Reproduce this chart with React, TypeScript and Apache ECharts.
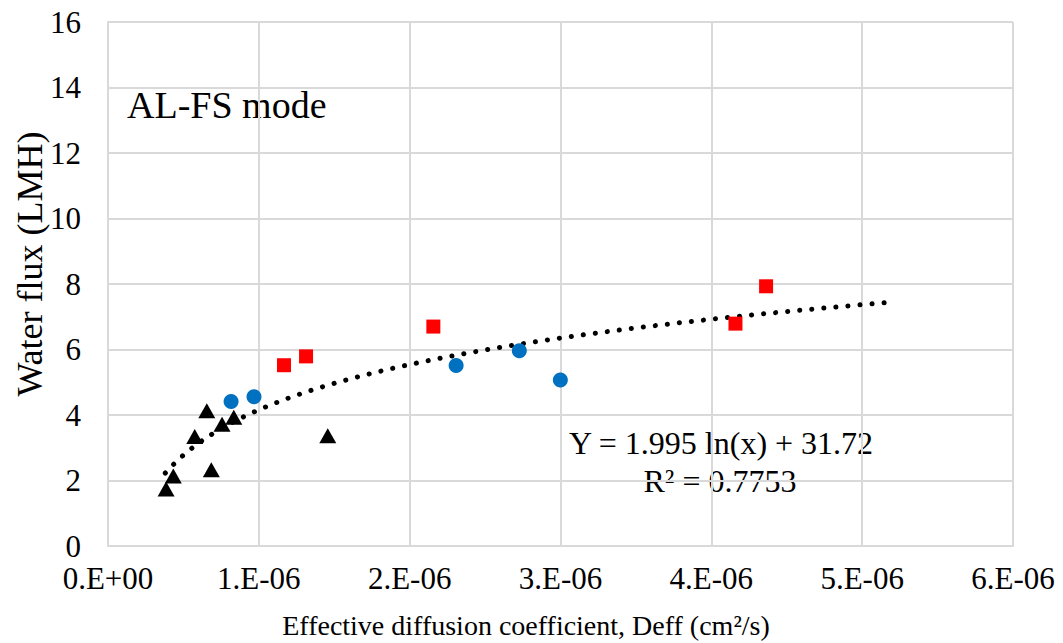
import React, { useEffect, useRef } from "react";
import * as echarts from "echarts";

// Black triangles (x in cm2/s, y in LMH)
const triX = [0.385e-6, 0.433e-6, 0.685e-6, 0.575e-6, 0.655e-6, 0.756e-6, 0.834e-6, 1.457e-6];
const triY = [1.74, 2.14, 2.33, 3.34, 4.13, 3.72, 3.93, 3.37];

// Blue circles
const circX = [0.816e-6, 0.968e-6, 2.308e-6, 2.727e-6, 2.999e-6];
const circY = [4.41, 4.56, 5.51, 5.96, 5.07];

// Red squares
const sqX = [1.167e-6, 1.313e-6, 2.157e-6, 4.16e-6, 4.363e-6];
const sqY = [5.52, 5.79, 6.7, 6.79, 7.93];

// Logarithmic trendline as stated on the chart: Y = 1.995 ln(x) + 31.72
const trendA = 1.995;
const trendB = 31.72;
const trendStart = 0.38e-6;
const trendEnd = 5.2e-6;
const trendSteps = 120;

const xTicks = ["0.E+00", "1.E-06", "2.E-06", "3.E-06", "4.E-06", "5.E-06", "6.E-06"];

const FONT = "'Liberation Serif', 'Times New Roman', serif";

export default function App() {
  const ref = useRef<HTMLDivElement>(null);
  useEffect(() => {
    if (!ref.current) return;
    const chart = echarts.init(ref.current, undefined, { renderer: "svg" });
    const trend: number[][] = [];
    for (let i = 0; i <= trendSteps; i++) {
      const x = trendStart + ((trendEnd - trendStart) * i) / trendSteps;
      trend.push([x, trendA * Math.log(x) + trendB]);
    }
    const zip = (xs: number[], ys: number[]) => xs.map((x, i) => [x, ys[i]]);
    chart.setOption({
      animation: false,
      backgroundColor: "#ffffff",
      textStyle: { fontFamily: FONT },
      grid: { left: 108, right: 50, top: 22, bottom: 97, containLabel: false },
      xAxis: {
        type: "value",
        min: 0,
        max: 6e-6,
        interval: 1e-6,
        axisLine: { show: true, lineStyle: { color: "#d9d9d9", width: 2 } },
        axisTick: { show: false },
        splitLine: { show: true, lineStyle: { color: "#d9d9d9", width: 2 } },
        axisLabel: {
          fontFamily: FONT,
          fontSize: 31,
          color: "#000",
          margin: 17,
          formatter: (v: number) => xTicks[Math.round(v * 1e6)] ?? "",
        },
      },
      yAxis: {
        type: "value",
        min: 0,
        max: 16,
        interval: 2,
        axisLine: { show: true, lineStyle: { color: "#d9d9d9", width: 2 } },
        axisTick: { show: false },
        splitLine: { show: true, lineStyle: { color: "#d9d9d9", width: 2 } },
        axisLabel: { fontFamily: FONT, fontSize: 31, color: "#000", margin: 27 },
      },
      series: [
        {
          type: "line",
          data: trend,
          showSymbol: false,
          symbol: "none",
          lineStyle: { color: "#000", width: 5, type: [0.1, 12], cap: "round" },
          z: 1,
        },
        {
          type: "scatter",
          data: zip(triX, triY),
          symbol: "triangle",
          symbolSize: [17, 15],
          itemStyle: { color: "#000", opacity: 1 },
          z: 3,
        },
        {
          type: "scatter",
          data: zip(circX, circY),
          symbol: "circle",
          symbolSize: 15,
          itemStyle: { color: "#0070c0", opacity: 1 },
          z: 3,
        },
        {
          type: "scatter",
          data: zip(sqX, sqY),
          symbol: "rect",
          symbolSize: 14,
          itemStyle: { color: "#ff0000", opacity: 1 },
          z: 3,
        },
      ],
      graphic: [
        {
          type: "text",
          x: 127,
          y: 105,
          style: {
            text: "AL-FS mode",
            fontFamily: FONT,
            fontSize: 38,
            fill: "#000",
            align: "left",
            verticalAlign: "middle",
          },
        },
        {
          type: "text",
          x: 721,
          y: 443,
          style: {
            text: "Y = 1.995 ln(x) + 31.72",
            fontFamily: FONT,
            fontSize: 32,
            fill: "#000",
            align: "center",
            verticalAlign: "middle",
          },
        },
        {
          type: "text",
          x: 720,
          y: 481,
          style: {
            text: "R² = 0.7753",
            fontFamily: FONT,
            fontSize: 32,
            fill: "#000",
            align: "center",
            verticalAlign: "middle",
          },
        },
        {
          type: "text",
          x: 526,
          y: 625,
          style: {
            text: "Effective diffusion coefficient, Deff (cm²/s)",
            fontFamily: FONT,
            fontSize: 28,
            fill: "#000",
            align: "center",
            verticalAlign: "middle",
          },
        },
        {
          type: "text",
          x: 30,
          y: 264,
          rotation: Math.PI / 2,
          style: {
            text: "Water flux (LMH)",
            fontFamily: FONT,
            fontSize: 36,
            fill: "#000",
            align: "center",
            verticalAlign: "middle",
          },
        },
      ],
    });
    return () => chart.dispose();
  }, []);
  return (
    <div
      ref={ref}
      style={{ position: "fixed", left: 0, top: 0, width: 1063, height: 643, background: "#fff" }}
    />
  );
}
